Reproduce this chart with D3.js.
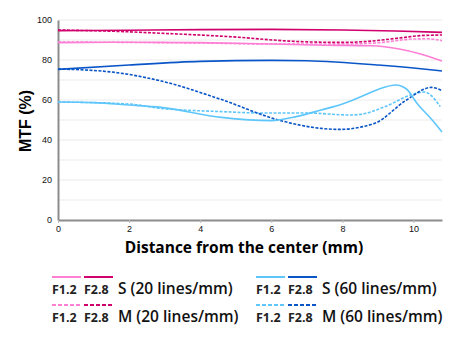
<!DOCTYPE html>
<html>
<head>
<meta charset="utf-8">
<script src="https://cdn.jsdelivr.net/npm/d3@7"></script>
<style>
  body { margin: 0; background: #fff; }
  text { font-family: "Open Sans", "Liberation Sans", sans-serif; }
</style>
</head>
<body>
<svg width="460" height="341"></svg>
<script>
// distances (mm) and MTF values (%)
const s20f28 = [[0, 94.7], [2, 94.9], [4, 95.2], [6, 95.3], [8, 95], [9.5, 94.5], [10.8, 93.8]];
const m20f28 = [[0, 95], [1.5, 94.4], [3, 93.3], [4.8, 91.7], [6.8, 89.2], [8, 88.8], [8.7, 89.3], [9.6, 91], [10.2, 92.2], [10.8, 92.5]];
const s20f12 = [[0, 88.7], [2, 88.9], [4, 88.7], [6, 88], [7.5, 87.4], [8.8, 87.1], [9.6, 85.5], [10.2, 83], [10.8, 79.5]];
const m20f12 = [[0, 89], [2, 88.8], [4, 88.5], [6, 88], [8, 88], [9, 88.6], [10, 90.5], [10.4, 90.6], [10.8, 89.7]];
const s60f28 = [[0, 75.3], [2, 77.5], [4, 79.3], [6, 79.8], [7, 79.6], [9, 77.5], [10, 76], [10.8, 74.5]];
const m60f28 = [[0, 75.5], [1.5, 74], [2.9, 69.5], [4.6, 60.2], [6.2, 50], [7.4, 45.8], [7.9, 45.3], [8.9, 48.3], [9.8, 60], [10.5, 66.3], [10.8, 64.7]];
const s60f12 = [[0, 59], [1, 58.7], [2, 57.5], [2.9, 56.3], [4.6, 51.3], [6, 49.7], [6.7, 51.7], [7.4, 55], [8, 58], [8.5, 61.5], [9, 65.3], [9.5, 67.5], [9.8, 65.5], [10.1, 58.3], [10.5, 50.5], [10.8, 44]];
const m60f12 = [[0, 59], [2, 58], [2.9, 55.8], [4.6, 54.2], [5.7, 53.5], [7, 53.5], [8.2, 52.5], [8.5, 52.8], [9.2, 56.7], [10, 63], [10.3, 64], [10.75, 56.7]];

const xTicks = [0, 2, 4, 6, 8, 10];
const yTicks = [0, 20, 40, 60, 80, 100];

const pink = "#ff7fd4", magenta = "#d0006c", lightBlue = "#5ec6fb", darkBlue = "#0a56c8";

const series = [
  { data: m60f12, color: lightBlue, dash: true },
  { data: m60f28, color: darkBlue, dash: true },
  { data: s60f12, color: lightBlue, dash: false },
  { data: s60f28, color: darkBlue, dash: false },
  { data: m20f12, color: pink, dash: true },
  { data: s20f12, color: pink, dash: false },
  { data: m20f28, color: magenta, dash: true },
  { data: s20f28, color: magenta, dash: false }
];

const svg = d3.select("svg");
const plotL = 58, plotR = 442, plotT = 20, plotB = 220;

const x = d3.scaleLinear().domain([0, 10.8]).range([plotL, plotR]);
const y = d3.scaleLinear().domain([0, 100]).range([plotB, plotT]);

// gridlines every 10
svg.append("g")
  .selectAll("line")
  .data(d3.range(10, 101, 10))
  .join("line")
  .attr("x1", plotL).attr("x2", plotR)
  .attr("y1", d => y(d)).attr("y2", d => y(d))
  .attr("stroke", "#ebebeb").attr("stroke-width", 1);

// axes
const yAxis = svg.append("g")
  .attr("transform", `translate(${plotL},0)`)
  .call(d3.axisLeft(y).tickValues(yTicks).tickSize(0).tickPadding(6));
yAxis.select(".domain").attr("stroke", "#8c8c8c").attr("stroke-width", 2);
yAxis.selectAll("text").attr("font-size", 9).attr("fill", "#111")
  .style("font-family", "'Liberation Sans', Arial, sans-serif");

const xAxis = svg.append("g")
  .attr("transform", `translate(0,${plotB})`)
  .call(d3.axisBottom(x).tickValues(xTicks).tickSize(3).tickPadding(3).tickSizeOuter(0));
xAxis.select(".domain").attr("stroke", "#8c8c8c").attr("stroke-width", 2);
xAxis.selectAll(".tick line").attr("stroke", "#bbb");
xAxis.selectAll("text").attr("font-size", 9).attr("fill", "#111")
  .style("font-family", "'Liberation Sans', Arial, sans-serif");

// curves
const line = d3.line()
  .x(d => x(d[0]))
  .y(d => y(d[1]))
  .curve(d3.curveMonotoneX);

svg.append("g")
  .selectAll("path")
  .data(series)
  .join("path")
  .attr("d", d => line(d.data))
  .attr("fill", "none")
  .attr("stroke", d => d.color)
  .attr("stroke-width", 1.6)
  .attr("stroke-dasharray", d => d.dash ? "3,1.5" : null);

// axis titles
svg.append("text")
  .attr("transform", "translate(31,121) rotate(-90)")
  .attr("text-anchor", "middle")
  .attr("font-size", 16).attr("font-weight", "bold")
  .style("font-family", "'Liberation Sans', Arial, sans-serif")
  .text("MTF (%)");

svg.append("text")
  .attr("x", 244).attr("y", 253)
  .attr("text-anchor", "middle")
  .attr("font-size", 15.5).attr("font-weight", 700)
  .text("Distance from the center (mm)");

// legend
const legendItems = [
  { x: 52, y: 277, c1: pink, c2: magenta, dash: false, label: "S (20 lines/mm)" },
  { x: 52, y: 305, c1: pink, c2: magenta, dash: true, label: "M (20 lines/mm)" },
  { x: 256, y: 277, c1: lightBlue, c2: darkBlue, dash: false, label: "S (60 lines/mm)" },
  { x: 256, y: 305, c1: lightBlue, c2: darkBlue, dash: true, label: "M (60 lines/mm)" }
];

const lg = svg.append("g").selectAll("g").data(legendItems).join("g")
  .attr("transform", d => `translate(${d.x},${d.y})`);

[["c1", 0, "F1.2"], ["c2", 32, "F2.8"]].forEach(([key, dx, name]) => {
  lg.append("line")
    .attr("x1", dx).attr("x2", dx + 29)
    .attr("stroke", d => d[key]).attr("stroke-width", 2)
    .attr("stroke-dasharray", d => d.dash ? "4,2" : null);
  lg.append("text")
    .attr("x", dx).attr("y", 17)
    .attr("font-size", 12.5).attr("font-weight", 700).attr("fill", "#222")
    .text(name);
});

lg.append("text")
  .attr("x", 66).attr("y", 17)
  .attr("font-size", 15.5).attr("font-weight", 600).attr("fill", "#111")
  .text(d => d.label);
</script>
</body>
</html>
